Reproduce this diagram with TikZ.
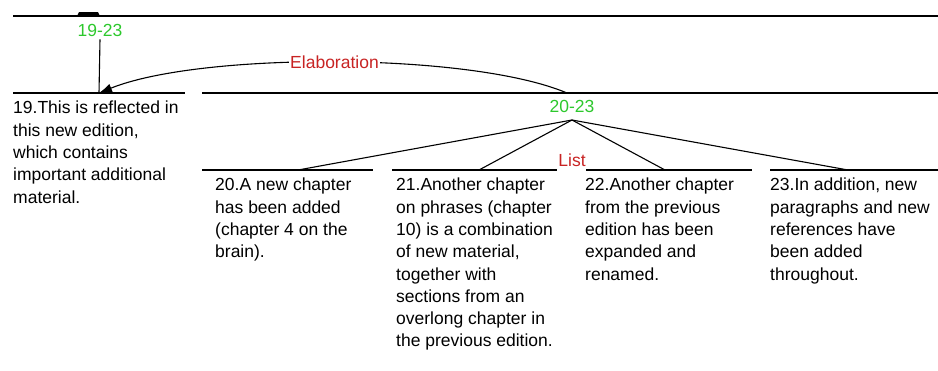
\documentclass[tikz,border=0pt]{standalone}
\usepackage{fontspec}
\setmainfont{Liberation Sans}
\usetikzlibrary{arrows.meta}
\definecolor{relgreen}{RGB}{45,200,45}
\definecolor{relred}{RGB}{200,35,35}
\begin{document}
\begin{tikzpicture}[x=1pt,y=-1pt,
  span/.style={line width=1.2pt},
  conn/.style={line width=1.1pt},
  seg/.style={inner sep=0pt,anchor=north west,align=left,font=\fontsize{17.5}{22.3}\selectfont},
  spanlbl/.style={inner sep=1pt,text=relgreen,font=\fontsize{17.5}{21}\selectfont},
  rellbl/.style={inner sep=1pt,text=relred,font=\fontsize{17.5}{21}\selectfont}]
\useasboundingbox (0,0) rectangle (938,370);
% span lines
\draw[span] (13,16) -- (938,16);
\fill (77,16) -- (79,12) -- (98,12) -- (100,16) -- cycle;
\draw[span] (13,93) -- (185,93);
\draw[span] (202,93) -- (938,93);
\draw[span] (202,170) -- (373,170);
\draw[span] (392,170) -- (557,170);
\draw[span] (586,170) -- (752,170);
\draw[span] (770,170) -- (938,170);
% labels
\node[spanlbl] (l1923) at (100,30) {19-23};
\node[spanlbl] (l2023) at (572,106) {20-23};
\coordinate (tip) at (99,93);
\coordinate (elab) at (567,93);
\coordinate (apex) at (572,120);
\coordinate (e20) at (298,170);
\coordinate (e21) at (479,170);
\coordinate (e22) at (665,170);
\coordinate (e23) at (848,170);
\draw[conn] (l1923.south) ++(0,2) -- (tip);
\draw[conn,-{Latex[length=13pt,width=9pt]}] (elab) .. controls (470,52) and (200,52) .. node[rellbl,fill=white,pos=0.5] {Elaboration} (tip);
\draw[conn] (apex) -- (e20);
\draw[conn] (apex) -- (e21);
\draw[conn] (apex) -- (e22);
\draw[conn] (apex) -- (e23);
\node[rellbl] (list) at (572,160) {List};
% segments
\node[seg] (s19) at (13,101) {19.This is reflected in\\this new edition,\\which contains\\important additional\\material.};
\node[seg] (s20) at (215,178) {20.A new chapter\\has been added\\(chapter 4 on the\\brain).};
\node[seg] (s21) at (396,178) {21.Another chapter\\on phrases (chapter\\10) is a combination\\of new material,\\together with\\sections from an\\overlong chapter in\\the previous edition.};
\node[seg] (s22) at (585,178) {22.Another chapter\\from the previous\\edition has been\\expanded and\\renamed.};
\node[seg] (s23) at (770,178) {23.In addition, new\\paragraphs and new\\references have\\been added\\throughout.};
\end{tikzpicture}
\end{document}
